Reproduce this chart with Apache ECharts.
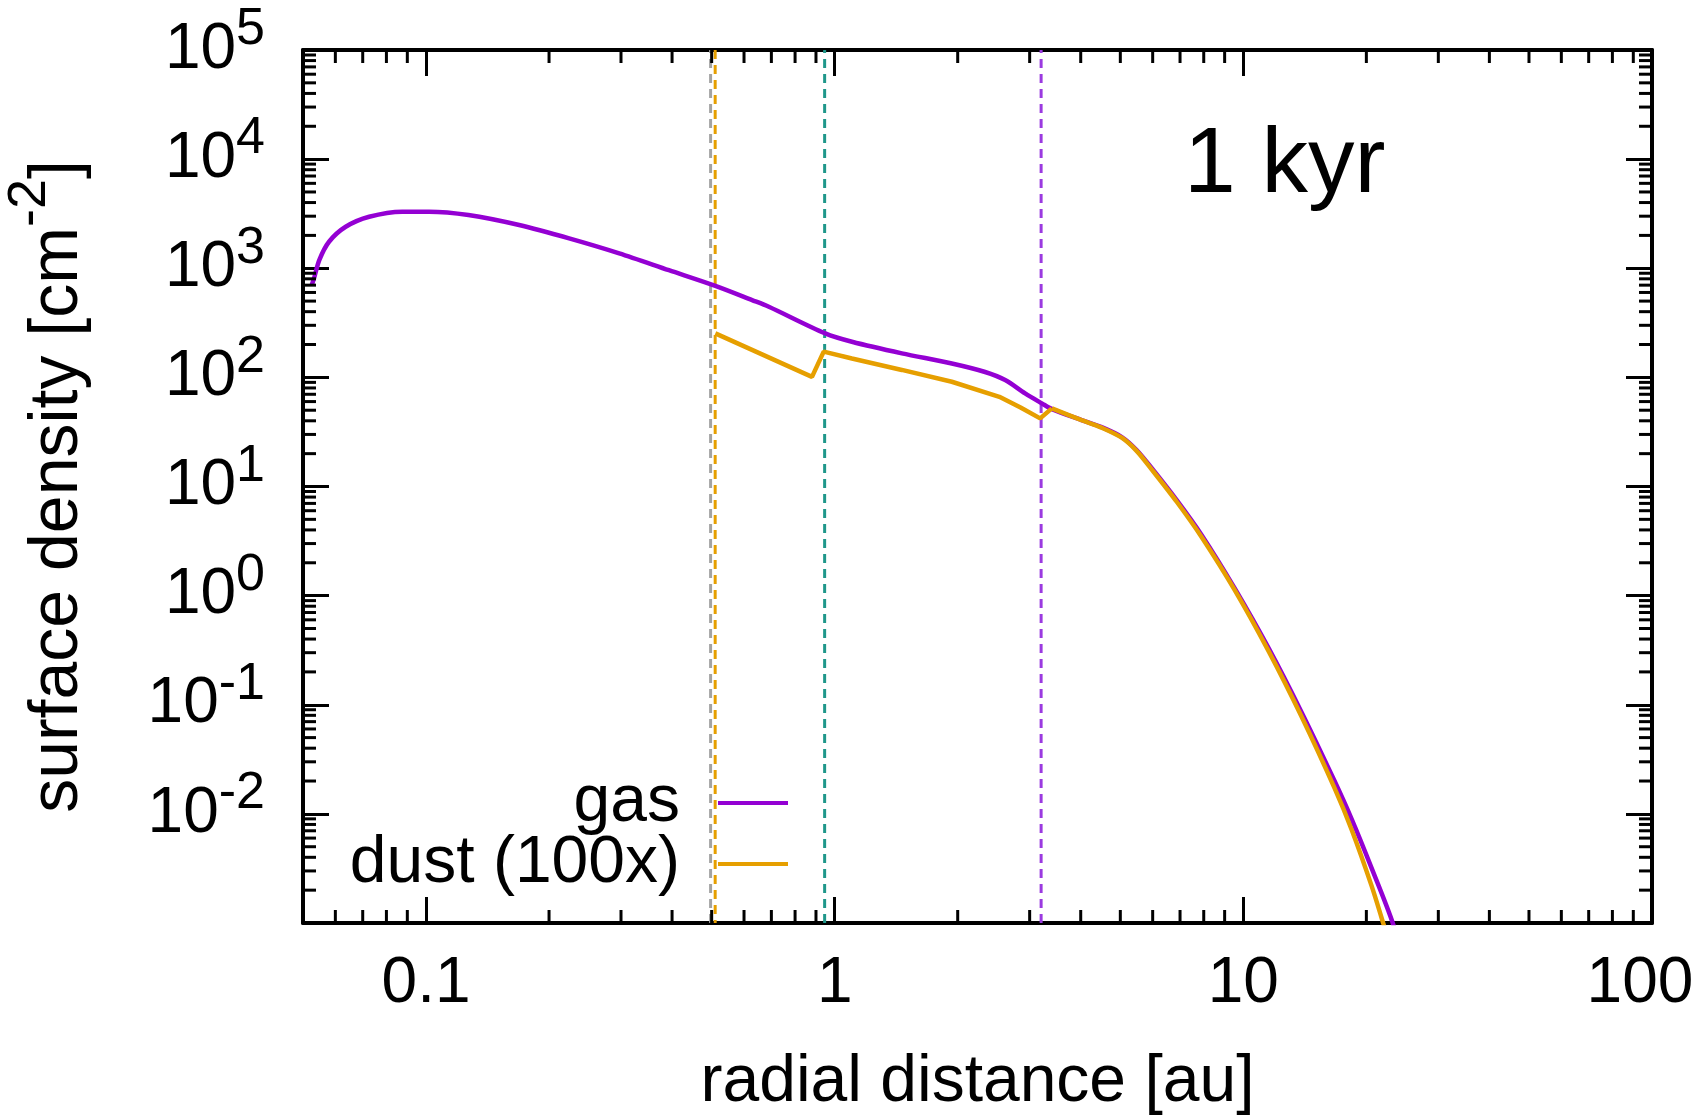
<!DOCTYPE html>
<html><head><meta charset="utf-8">
<script src="https://cdn.jsdelivr.net/npm/echarts@6/dist/echarts.min.js"></script>
<style>html,body{margin:0;padding:0;background:#fff}#c{width:1699px;height:1118px}</style>
</head><body><div id="c"></div>
<script>
// ---- data ----
const gasR = [0.0525, 0.0532, 0.0548, 0.0579, 0.0636, 0.0726, 0.0875, 0.1017, 0.127, 0.169, 0.224, 0.297, 0.393, 0.5105, 0.628, 0.690, 0.948, 1.102, 1.460, 1.935, 2.334, 2.613, 2.924, 3.213, 3.40, 4.02, 4.50, 5.04, 5.48, 5.97, 6.87, 7.91, 9.52, 11.53, 13.88, 16.72, 18.40, 20.59, 23.27, 25.0];
const gasSigma = [700, 807, 1189, 1750, 2400, 2965, 3300, 3300, 3076, 2490, 1880, 1370, 960, 690, 511, 444, 253, 212, 166, 134, 112, 94.4, 71.3, 57.8, 51.2, 40.6, 35.0, 28.4, 21.6, 14.7, 7.50, 3.58, 1.17, 0.330, 0.0855, 0.0200, 0.0090, 0.0032, 0.00097, 0.00035];
const dustR = [0.5105, 0.88, 0.94, 1.102, 1.460, 1.935, 2.529, 2.85, 3.183, 3.40, 4.02, 4.50, 5.04, 5.48, 5.97, 6.87, 7.91, 9.52, 11.53, 13.88, 16.72, 18.40, 20.59, 22.0, 23.27, 24.5];
const dustSigma = [253, 101, 172, 149, 117, 91.2, 66.4, 53, 42.1, 52.0, 40.6, 34.6, 28.0, 21.2, 14.3, 7.25, 3.43, 1.13, 0.31, 0.078, 0.0172, 0.0072, 0.0022, 0.00099, 0.00048, 0.00020];
const dustKinkEndR = 3.40;  // dust has sharp kinks up to here, smooth beyond
const lineR = [0.497, 0.51, 0.945, 3.2];
const xTickValues = [0.1, 1, 10, 100];
const xTickLabels = ['0.1', '1', '10', '100'];
const yTickExps = [-2, -1, 0, 1, 2, 3, 4, 5];
const minorMultipliers = [2, 3, 4, 5, 6, 7, 8, 9];
const xDecades = [0.01, 0.1, 1, 10];
const yDecades = [1e-3, 1e-2, 1e-1, 1, 10, 100, 1e3, 1e4];

// ---- styling ----
const FONT = 'Liberation Sans, Arial, Helvetica, sans-serif';
const lineColors = ['#a3a3a3', '#e69f00', '#1f978a', '#9b3ae0'];
const lineDashOffsets = [0, 6, 0, 0];
const GAS_COLOR = '#9400d3', DUST_COLOR = '#e69f00';

const X_MIN = 0.05, X_MAX = 100, Y_MIN = 1e-3, Y_MAX = 1e5;

const minorData = [];
xDecades.forEach(d => minorMultipliers.forEach(m => {
  const v = +(d * m).toPrecision(6);
  if (v > X_MIN && v < X_MAX) minorData.push([v, 1, 0]);
}));
yDecades.forEach(d => minorMultipliers.forEach(m => {
  const v = +(d * m).toPrecision(6);
  if (v > Y_MIN && v < Y_MAX) minorData.push([1, v, 1]);
}));

function xFmt(v) {
  const i = xTickValues.findIndex(t => Math.abs(Math.log10(v / t)) < 1e-6);
  if (i < 0) return '';
  // last label sits a little inside the frame, as in the reference
  return i === xTickValues.length - 1 ? '{r|' + xTickLabels[i] + '}' : xTickLabels[i];
}
function yFmt(v) {
  const lg = Math.log10(v);
  const e = Math.round(lg);
  if (Math.abs(lg - e) > 1e-6 || yTickExps.indexOf(e) < 0) return '';
  return '{b|10}{s|' + e + '}';
}

const axisLine = { show: true, onZero: false, lineStyle: { color: '#000', width: 4 } };
const axisTick = { show: true, inside: true, length: 26, lineStyle: { color: '#000', width: 3 } };

const series = [];
lineR.forEach((r, i) => {
  series.push({
    type: 'line', data: [[r, Y_MIN], [r, Y_MAX]], symbol: 'none', silent: true, z: 1,
    lineStyle: { color: lineColors[i], width: 3, type: [9, 6], dashOffset: lineDashOffsets[i] }
  });
});
series.push({
  name: 'gas', type: 'line', data: gasR.map((r, i) => [r, gasSigma[i]]), symbol: 'none', z: 3,
  smooth: 0.3,
  lineStyle: { color: GAS_COLOR, width: 4.5 }, itemStyle: { color: GAS_COLOR }
});
const dustPairs = dustR.map((r, i) => [r, dustSigma[i]]);
series.push({
  name: 'dust (100x)', type: 'line', data: dustPairs.filter(p => p[0] <= dustKinkEndR), symbol: 'none', z: 4,
  lineStyle: { color: DUST_COLOR, width: 4.5 }, itemStyle: { color: DUST_COLOR }
});
series.push({
  name: 'dust (100x)', type: 'line', data: dustPairs.filter(p => p[0] >= dustKinkEndR), symbol: 'none', z: 4,
  smooth: 0.3,
  lineStyle: { color: DUST_COLOR, width: 4.5 }, itemStyle: { color: DUST_COLOR }
});
series.push({
  type: 'custom', data: minorData, silent: true, clip: false, z: 6,
  encode: { x: 0, y: 1 },
  renderItem: function (params, api) {
    const cs = params.coordSys;
    const kind = api.value(2);
    const len = 13;
    const st = { stroke: '#000', lineWidth: 3 };
    if (kind === 0) {
      const x = api.coord([api.value(0), 1])[0];
      return { type: 'group', children: [
        { type: 'line', shape: { x1: x, y1: cs.y + cs.height, x2: x, y2: cs.y + cs.height - len }, style: st },
        { type: 'line', shape: { x1: x, y1: cs.y, x2: x, y2: cs.y + len }, style: st }
      ] };
    }
    const y = api.coord([1, api.value(1)])[1];
    return { type: 'group', children: [
      { type: 'line', shape: { x1: cs.x, y1: y, x2: cs.x + len, y2: y }, style: st },
      { type: 'line', shape: { x1: cs.x + cs.width, y1: y, x2: cs.x + cs.width - len, y2: y }, style: st }
    ] };
  }
});

const option = {
  animation: false,
  backgroundColor: '#fff',
  title: {
    text: '1 kyr', left: 1184, top: 120, padding: 0,
    textStyle: { fontSize: 93, fontWeight: 'normal', color: '#000', fontFamily: FONT, lineHeight: 93 }
  },
  legend: {
    data: [{ name: 'gas', icon: 'rect' }, { name: 'dust (100x)', icon: 'rect' }],
    orient: 'vertical', align: 'right', right: 906, top: 765,
    itemWidth: 70, itemHeight: 4, itemGap: -5, selectedMode: false,
    textStyle: { fontSize: 66, color: '#000', fontFamily: FONT, padding: [0, 33, 0, 0] }
  },
  grid: { left: 303, right: 47, top: 50, bottom: 195, containLabel: false, outerBoundsMode: 'none' },
  xAxis: [
    {
      type: 'log', logBase: 10, min: X_MIN, max: X_MAX, position: 'bottom',
      axisLine, axisTick, splitLine: { show: false }, minorTick: { show: false },
      axisLabel: {
        show: true, margin: 29, fontSize: 64, color: '#000', fontFamily: FONT, formatter: xFmt,
        showMinLabel: false, showMaxLabel: true,
        rich: { r: { fontSize: 64, color: '#000', fontFamily: FONT, padding: [0, 24, 0, 0] } }
      },
      name: 'radial distance [au]', nameLocation: 'middle', nameGap: 127,
      nameTextStyle: { fontSize: 66, color: '#000', fontFamily: FONT }
    },
    {
      type: 'log', logBase: 10, min: X_MIN, max: X_MAX, position: 'top',
      axisLine, axisTick, splitLine: { show: false }, axisLabel: { show: false }
    }
  ],
  yAxis: [
    {
      type: 'log', logBase: 10, min: Y_MIN, max: Y_MAX, interval: 1, position: 'left',
      axisLine, axisTick, splitLine: { show: false }, minorTick: { show: false },
      axisLabel: {
        show: true, margin: 38, formatter: yFmt, showMinLabel: false, showMaxLabel: true,
        rich: {
          b: { fontSize: 64, lineHeight: 64, color: '#000', fontFamily: FONT },
          s: { fontSize: 52, verticalAlign: 'top', padding: [0, 0, 40, 0], color: '#000', fontFamily: FONT }
        }
      },
      name: '{a|surface density [cm}{s|-2}{a|]}', nameLocation: 'middle', nameGap: 190,
      nameTextStyle: {
        rich: {
          a: { fontSize: 68, lineHeight: 68, color: '#000', fontFamily: FONT },
          s: { fontSize: 54, verticalAlign: 'top', padding: [0, 0, 56, 0], color: '#000', fontFamily: FONT }
        }
      }
    },
    {
      type: 'log', logBase: 10, min: Y_MIN, max: Y_MAX, interval: 1, position: 'right',
      axisLine, axisTick, splitLine: { show: false }, axisLabel: { show: false }
    }
  ],
  series
};

const chart = echarts.init(document.getElementById('c'), null, { renderer: 'canvas' });
chart.setOption(option);
</script>
</body></html>
